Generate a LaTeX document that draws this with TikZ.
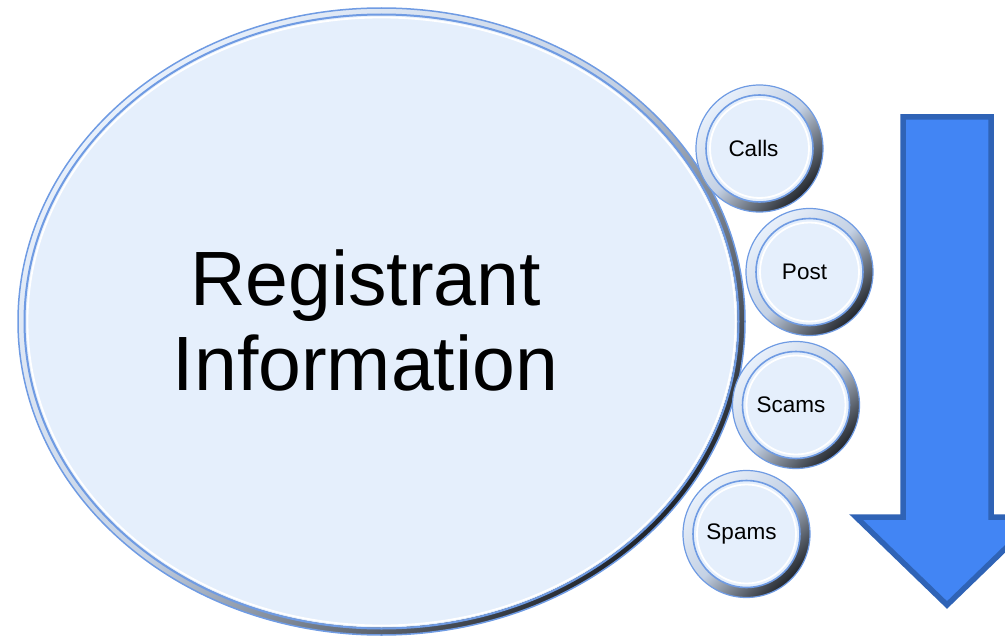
\documentclass[tikz,border=0pt]{standalone}
\usepackage{fontspec}
\setmainfont{Liberation Sans}
\usetikzlibrary{shapes.geometric}
\definecolor{facefill}{HTML}{E5EFFC}
\definecolor{rimblue}{HTML}{6F9BE3}
\definecolor{rimlight}{HTML}{E8F0FB}
\definecolor{rimmid}{HTML}{C4D1E4}
\definecolor{rimdark}{HTML}{22262C}
\definecolor{arrowfill}{HTML}{4285F4}
\definecolor{arrowline}{HTML}{2F63B6}
\tikzset{
  bubble/.style={circle, minimum size=#1, inner sep=0pt, draw=rimblue, line width=1.2pt,
    top color=rimlight, bottom color=rimdark, middle color=rimmid, shading angle=45,
    path picture={
      \fill[facefill] (path picture bounding box.center) circle ({#1/2-10pt});
      \draw[rimblue, line width=1.6pt] (path picture bounding box.center) circle ({#1/2-10pt});
      \draw[white, line width=1.8pt] (path picture bounding box.center) circle ({#1/2-14pt});
    }},
  bigoval/.style={ellipse, minimum width=727pt, minimum height=627pt, inner sep=0pt,
    draw=rimblue, line width=1.5pt,
    top color=rimlight, bottom color=rimdark, middle color=rimmid, shading angle=45,
    path picture={
      \fill[facefill] (path picture bounding box.center) ellipse [x radius=356pt, y radius=306pt];
      \draw[rimblue, line width=2pt] (path picture bounding box.center) ellipse [x radius=357pt, y radius=307pt];
      \draw[white, line width=1.8pt] (path picture bounding box.center) ellipse [x radius=354pt, y radius=304pt];
    }},
  bubtext/.style={font=\fontsize{22.5pt}{26pt}\selectfont, text=black},
  bigtext/.style={font=\fontsize{77pt}{85pt}\selectfont, text=black, align=center},
  downarrow/.style={fill=arrowfill, draw=arrowline, line width=5.5pt, line join=miter}
}
\begin{document}
\begin{tikzpicture}[x=1pt, y=-1pt]
\useasboundingbox (0,0) rectangle (1005,642);
\clip (0,0) rectangle (1005,642);
% big oval
\node[bigoval] (reg) at (381.5,321.5) {};
\node[bigtext] (regt) at ([xshift=-16pt, yshift=1pt]reg.center) {Registrant\\Information};
% small bubbles
\node[bubble=127pt] (calls) at (759.5,148.5) {};
\node[bubble=127pt] (post) at (809.5,272) {};
\node[bubble=127pt] (scams) at (796,405) {};
\node[bubble=127pt] (spams) at (746.5,534) {};
\node[bubtext] (callst) at ([xshift=-6pt]calls.center) {Calls};
\node[bubtext] (postt) at ([xshift=-5pt]post.center) {Post};
\node[bubtext] (scamst) at ([xshift=-5pt]scams.center) {Scams};
\node[bubtext] (spamst) at ([xshift=-5pt]spams.center) {Spams};
% arrow
\draw[downarrow] (903,117) -- (991,117) -- (991,517) -- (1038,517) -- (947,605) -- (856,517) -- (903,517) -- cycle;
\end{tikzpicture}
\end{document}
